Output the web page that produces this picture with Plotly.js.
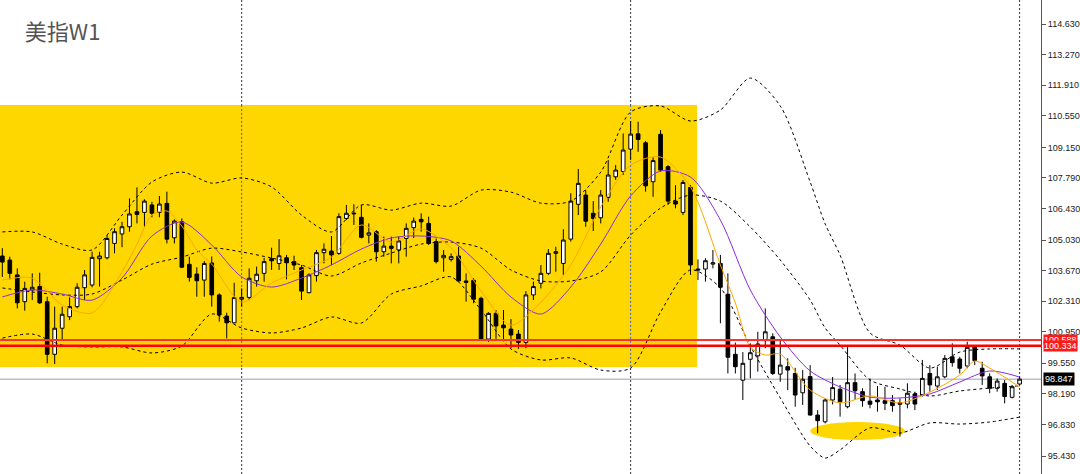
<!DOCTYPE html>
<html><head><meta charset="utf-8">
<script src="https://cdn.plot.ly/plotly-3.0.1.min.js"></script>
<style>html,body{margin:0;padding:0;background:#fff}#chart{width:1080px;height:474px}</style>
</head><body><div id="chart"></div>
<script>
// Weekly candles (US Dollar Index, W1)
const opens = [104.32,104.14,103.48,102.29,102.81,102.96,102.29,99.95,101.11,101.62,102.07,102.91,103.03,104.20,104.24,104.88,105.30,105.62,106.29,106.26,106.59,106.26,106.66,105.13,105.84,103.95,103.52,103.25,104.01,102.59,101.65,101.35,102.40,102.48,103.22,103.55,104.20,103.99,104.24,104.07,103.80,102.69,103.45,104.47,104.54,104.44,105.99,106.19,106.04,105.25,105.40,104.51,104.76,104.59,105.10,105.58,105.95,105.77,104.96,104.24,104.17,104.32,103.21,103.24,102.44,100.63,101.77,101.25,101.07,100.85,100.48,102.59,103.11,103.55,104.44,103.99,105.07,106.62,107.03,106.22,106.02,106.93,107.84,108.08,109.07,109.75,109.35,107.62,109.73,108.29,106.76,106.26,107.37,103.74,103.74,103.96,103.99,102.62,99.95,98.80,99.73,99.88,100.56,100.73,99.07,99.40,99.10,98.24,98.96,97.25,96.95,97.92,98.40,97.62,98.69,98.29,97.87,97.92,97.89,97.89,97.80,97.74,98.19,98.14,99.10,98.54,98.95,99.84,99.74,99.43,100.32,99.33,98.95,98.44,98.66,98.04,98.63];
const highs = [104.67,104.29,103.77,103.18,103.55,103.58,102.51,102.07,102.07,102.48,103.11,103.70,104.51,104.51,105.25,105.55,105.84,106.88,107.37,106.84,106.73,106.99,107.18,105.95,105.99,104.29,103.82,104.10,104.30,102.66,101.80,103.13,102.88,103.77,103.85,104.24,104.69,105.07,104.37,104.33,103.92,103.55,104.59,104.88,105.21,106.22,106.59,106.62,106.59,105.77,105.47,105.18,105.18,105.18,105.77,106.03,106.22,106.07,105.10,104.59,104.44,104.73,103.55,103.33,102.51,101.82,101.92,101.92,101.52,101.03,102.76,103.18,103.92,104.63,104.73,105.51,107.11,108.19,107.25,106.76,107.25,108.59,108.36,109.77,110.32,110.29,109.43,108.71,109.92,108.36,107.47,107.70,107.47,104.17,104.22,104.59,104.37,103.55,100.47,100.05,100.44,100.95,101.99,100.88,100.59,99.77,99.35,99.25,99.47,97.47,97.99,98.94,98.59,100.32,99.10,98.44,98.88,98.54,98.51,98.14,97.99,98.66,98.29,99.70,99.47,99.40,99.92,100.44,99.84,100.51,100.36,99.62,99.10,98.88,98.81,98.59,98.96];
const lows = [103.39,103.28,101.99,101.89,102.36,102.19,99.55,99.52,100.59,101.47,101.99,102.36,102.93,102.96,104.17,104.44,104.71,105.40,105.77,105.62,106.04,106.04,104.88,104.88,103.78,103.18,102.51,102.51,102.07,101.40,100.66,101.33,102.07,102.36,102.96,103.18,103.70,103.70,103.28,103.70,102.36,102.66,103.18,103.99,103.92,104.37,105.92,105.70,105.10,104.88,104.07,104.29,103.99,103.99,104.29,105.12,105.40,104.81,103.99,103.62,104.07,103.18,102.29,102.22,100.59,100.51,100.63,100.59,100.22,100.19,100.22,102.36,102.88,103.48,103.62,103.48,104.96,106.14,105.62,105.43,105.77,106.73,107.70,107.92,108.59,108.95,107.18,106.95,108.07,106.59,106.44,106.14,103.48,103.25,103.18,103.77,101.33,99.10,99.10,97.92,98.88,99.18,100.22,99.03,98.73,98.36,97.62,97.70,97.22,96.44,96.88,97.72,97.18,97.55,97.92,97.62,97.55,97.40,97.47,97.40,96.29,97.55,97.47,98.07,98.29,98.36,98.88,99.40,99.10,99.33,99.47,98.59,98.22,98.29,97.77,97.99,98.59];
const closes = [104.05,103.55,102.24,102.88,102.93,102.24,99.95,101.11,101.73,102.07,102.93,103.48,104.26,104.32,105.10,105.40,105.62,106.19,106.17,106.76,106.22,106.63,105.07,105.87,103.82,103.37,103.22,103.99,102.59,101.70,101.35,102.47,102.48,103.33,103.51,104.07,104.11,104.33,104.02,103.92,102.76,103.48,104.47,104.62,104.37,106.07,106.22,106.22,105.15,105.35,104.51,104.76,104.66,104.99,105.55,105.87,105.84,104.88,104.07,104.35,104.29,103.21,103.15,102.40,100.63,101.77,101.21,101.13,100.81,100.48,102.59,102.96,103.55,104.44,104.51,105.03,106.76,107.55,105.87,105.99,107.03,107.92,108.14,109.03,109.74,109.50,107.44,108.56,108.14,106.76,106.63,107.59,103.92,103.70,104.11,104.02,102.93,99.82,99.40,99.55,100.02,100.41,100.95,99.10,99.47,99.25,98.14,98.84,97.25,97.00,97.92,98.47,97.84,98.69,98.33,97.89,97.73,97.84,97.77,97.67,97.73,98.22,97.74,98.88,98.59,98.95,99.77,99.58,99.33,100.26,99.67,98.99,98.44,98.76,98.07,98.51,98.847];

// Bollinger bands (at candle index)
const bandIdx = [0,4,8,12,16,20,24,28,32,36,40,44,48,52,56,60,64,68,72,76,80,84,88,92,96,100,104,108,110,112,116,120,124,128,132,136];
const bandUpper = [105.39,105.39,104.85,104.59,106.14,107.61,108.05,107.56,107.79,107.39,106.14,105.39,106.59,106.36,106.67,106.54,107.25,107.16,106.67,106.76,108.05,110.72,110.99,110.32,110.81,112.23,110.99,107.61,105.75,104.36,100.90,100.36,99.34,100.05,100.19,100.19];
const bandMiddle = [102.90,102.72,102.59,102.63,103.25,103.96,104.27,104.67,104.50,104.23,103.92,103.43,104.01,104.45,104.85,104.94,104.67,103.70,103.21,103.21,103.61,105.25,106.45,107.03,106.76,105.61,104.14,102.36,101.12,100.36,98.81,98.41,98.10,98.32,98.45,98.55];
const bandLower = [100.67,100.85,100.36,100.28,100.28,100.01,100.32,101.74,101.12,100.90,101.12,101.61,101.34,102.63,102.99,103.39,101.92,100.19,99.70,99.79,99.25,99.34,101.83,103.70,102.90,100.32,98.01,95.87,95.34,95.70,96.68,96.45,96.90,96.85,96.94,97.16];

// Moving averages
const slowIdx = [0,4,8,12,16,20,24,28,32,36,40,44,48,52,56,60,64,68,72,76,80,84,88,92,96,100,104,108,112,116,120,124,128,132,136];
const slowMA = [102.50,102.81,102.63,102.36,103.34,105.21,105.83,104.81,103.39,102.94,103.34,103.92,104.63,105.12,105.21,104.99,103.87,102.50,101.74,102.94,104.85,106.99,108.10,107.83,105.92,102.81,100.72,99.21,98.50,98.05,98.01,98.19,98.72,99.21,98.94];
const fastIdx = [0,4,8,12,16,18,20,22,24,26,28,32,36,40,44,48,52,56,60,64,68,72,76,80,84,88,92,96,98,100,102,104,108,112,116,120,124,128,130,132,136];
const fastMA = [103.25,103.34,102.14,101.79,103.61,104.85,106.14,106.32,105.65,104.59,103.96,102.27,103.12,103.70,104.27,105.70,104.94,105.52,104.67,102.76,101.25,102.27,103.92,106.50,108.36,108.72,107.39,103.92,102.23,100.27,99.92,99.96,98.36,97.79,98.10,97.79,98.27,99.03,99.65,99.34,98.50];

// Axis ticks
const tickValues = [114.63,113.27,111.91,110.55,109.15,107.79,106.43,105.03,103.67,102.31,100.95,99.55,98.19,96.83,95.43];
const tickLabels = ["114.630","113.270","111.910","110.550","109.150","107.790","106.430","105.030","103.670","102.310","100.950","99.550","98.190","96.830","95.430"];

// Levels / markings
const resistanceLevels = [100.588, 100.334];
const lastPrice = 98.847;
const separatorIdx = [32, 84, 136];
const zone = {x1: 92.87, top: 111.03, bottom: 99.39};
const ellipse = {x0: 108.0, x1: 120.7, y0: 96.14, y1: 96.94};

const idx = opens.map((_, i) => i);

const dashStyle = '3px,3px';
const traces = [
  {type:'candlestick', x: idx, open: opens, high: highs, low: lows, close: closes,
   increasing:{line:{color:'#000', width:1}, fillcolor:'#ffffff'},
   decreasing:{line:{color:'#000', width:1}, fillcolor:'#000000'},
   whiskerwidth:0, hoverinfo:'skip', showlegend:false},
  {type:'scatter', mode:'lines', x: bandIdx, y: bandUpper, line:{color:'#000', width:1, dash:dashStyle, shape:'spline', smoothing:0.8}, hoverinfo:'skip', showlegend:false},
  {type:'scatter', mode:'lines', x: bandIdx, y: bandMiddle, line:{color:'#000', width:1, dash:dashStyle, shape:'spline', smoothing:0.8}, hoverinfo:'skip', showlegend:false},
  {type:'scatter', mode:'lines', x: bandIdx, y: bandLower, line:{color:'#000', width:1, dash:dashStyle, shape:'spline', smoothing:0.8}, hoverinfo:'skip', showlegend:false},
  {type:'scatter', mode:'lines', x: slowIdx, y: slowMA, line:{color:'#8a2be2', width:1, shape:'spline', smoothing:0.8}, hoverinfo:'skip', showlegend:false},
  {type:'scatter', mode:'lines', x: fastIdx, y: fastMA, line:{color:'#ffa500', width:1, shape:'spline', smoothing:0.8}, hoverinfo:'skip', showlegend:false}
];

const shapes = [];
shapes.push({type:'rect', xref:'x', yref:'y', x0:-5, x1:zone.x1, y0:zone.bottom, y1:zone.top, fillcolor:'#ffd700', line:{width:0}, layer:'below'});
shapes.push({type:'circle', xref:'x', yref:'y', x0:ellipse.x0, x1:ellipse.x1, y0:ellipse.y0, y1:ellipse.y1, fillcolor:'#ffd700', line:{width:0}, layer:'below'});
shapes.push({type:'line', xref:'paper', yref:'y', x0:0, x1:1, y0:lastPrice, y1:lastPrice, line:{color:'#b8c0c8', width:1.5}, layer:'below'});
separatorIdx.forEach(s => {
  shapes.push({type:'line', xref:'x', yref:'paper', x0:s, x1:s, y0:0, y1:1, line:{color:'#333', width:1, dash:'2px,2px'}, layer:'below'});
  if (s < zone.x1) {
    shapes.push({type:'line', xref:'x', yref:'y', x0:s, x1:s, y0:zone.bottom, y1:zone.top, line:{color:'#3a5ad8', width:1, dash:'2px,2px'}, layer:'below'});
  }
});
shapes.push({type:'line', xref:'paper', yref:'y', x0:0, x1:1, y0:resistanceLevels[0], y1:resistanceLevels[0], line:{color:'#ff3030', width:2}});
shapes.push({type:'line', xref:'paper', yref:'y', x0:0, x1:1, y0:resistanceLevels[1], y1:resistanceLevels[1], line:{color:'#ff0000', width:2.5}});

const labelFont = {family:'Liberation Sans, Arial, sans-serif', size:9, color:'#ffffff'};
const annotations = [
  {xref:'paper', yref:'y', x:1, y:resistanceLevels[0], xanchor:'left', yanchor:'middle', xshift:2, text:resistanceLevels[0].toFixed(3), showarrow:false, bgcolor:'#ff1a1a', font:labelFont, borderpad:0},
  {xref:'paper', yref:'y', x:1, y:resistanceLevels[1], xanchor:'left', yanchor:'middle', xshift:2, text:resistanceLevels[1].toFixed(3), showarrow:false, bgcolor:'#ff1a1a', font:labelFont, borderpad:0},
  {xref:'paper', yref:'y', x:1, y:lastPrice, xanchor:'left', yanchor:'middle', xshift:2, text:lastPrice.toFixed(3), showarrow:false, bgcolor:'#000000', font:labelFont, borderpad:1}
];

const layout = {
  width:1080, height:474,
  margin:{l:0, r:39, t:0, b:0, pad:0},
  paper_bgcolor:'#ffffff', plot_bgcolor:'#ffffff',
  title:{text:'美指W1', x:0.023, xanchor:'left', y:0.931, yanchor:'middle', font:{family:'Noto Sans CJK SC, sans-serif', size:22, color:'#555555'}},
  xaxis:{range:[-0.31, 138.86], visible:false, rangeslider:{visible:false}, fixedrange:true},
  yaxis:{side:'right', range:[94.63, 115.70], tickvals:tickValues, ticktext:tickLabels,
    ticks:'outside', ticklen:4, tickcolor:'#555', showline:true, linecolor:'#555', linewidth:1,
    showgrid:false, zeroline:false, tickfont:{family:'Liberation Sans, Arial, sans-serif', size:9, color:'#222'}, fixedrange:true},
  shapes: shapes,
  annotations: annotations,
  showlegend:false
};

Plotly.newPlot('chart', traces, layout, {staticPlot:true, displayModeBar:false});
</script>
</body></html>
